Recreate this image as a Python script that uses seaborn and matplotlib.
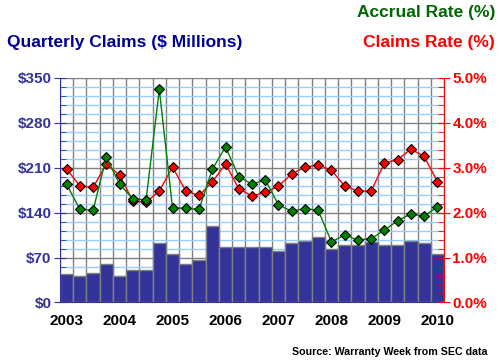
import numpy as np
import pandas as pd
import matplotlib
matplotlib.use("Agg")
import matplotlib.pyplot as plt
import seaborn as sns
from matplotlib.ticker import MultipleLocator, FixedLocator

# quarterly data, 2003 Q1 .. 2010 Q1
quarters = [f"{y}Q{q}" for y in range(2003, 2011) for q in range(1, 5)][:29]
claims = [44, 41, 46, 60, 42, 50, 50, 92, 75, 60, 66, 119, 86, 86, 86, 86,
          80, 92, 95, 102, 84, 90, 90, 94, 90, 90, 95, 92, 75]
claims_rate = [2.97, 2.59, 2.56, 3.08, 2.83, 2.26, 2.23, 2.48, 3.01, 2.48, 2.38, 2.68,
               3.08, 2.53, 2.37, 2.45, 2.59, 2.86, 3.01, 3.06, 2.94, 2.59, 2.48, 2.48,
               3.10, 3.18, 3.41, 3.25, 2.69]
accrual_rate = [2.63, 2.07, 2.05, 3.24, 2.63, 2.31, 2.28, 4.74, 2.10, 2.10, 2.07, 2.96,
                3.46, 2.80, 2.63, 2.73, 2.17, 2.03, 2.09, 2.05, 1.35, 1.50, 1.39, 1.42,
                1.61, 1.82, 1.97, 1.92, 2.13]
years = ["2003", "2004", "2005", "2006", "2007", "2008", "2009", "2010"]

df = pd.DataFrame({"quarter": quarters, "claims": claims,
                   "claims_rate": claims_rate, "accrual_rate": accrual_rate})
df["pos"] = np.arange(len(df))

sns.set_style("white")
plt.rcParams["font.family"] = ["Liberation Sans", "DejaVu Sans"]
plt.rcParams["font.weight"] = "bold"

navy = "#333399"
fig = plt.figure(figsize=(5, 3.63), dpi=100)
ax = fig.add_axes([0.12, 0.1667, 0.768, 0.6193])

sns.barplot(data=df, x="quarter", y="claims", color=navy, saturation=1,
            width=1, edgecolor="#808080", linewidth=1, ax=ax)
ax.set_axisbelow(True)
ax.set_xlim(-0.5, len(df) - 0.5)
ax.set_ylim(0, 350)
ax.yaxis.set_major_locator(MultipleLocator(70))
ax.yaxis.set_minor_locator(MultipleLocator(14))
ax.set_yticklabels([f"${int(v)}" for v in ax.get_yticks()])
ax.xaxis.set_major_locator(FixedLocator(np.arange(0, 29, 4)))
ax.set_xticklabels(years)
ax.xaxis.set_minor_locator(FixedLocator(np.arange(-0.5, 29, 1)))
ax.tick_params(axis="x", which="major", length=0, labelsize=11, labelcolor="black", pad=8)
ax.tick_params(axis="x", which="minor", length=4, direction="out", color="black")
ax.tick_params(axis="y", which="major", length=8, direction="inout", color=navy,
               labelcolor=navy, labelsize=11, pad=2)
ax.tick_params(axis="y", which="minor", length=4, direction="in", color=navy)
ax.grid(which="minor", axis="y", color="#99ccff", linewidth=1)
ax.grid(which="major", axis="y", color="#808080", linewidth=1)
ax.grid(which="minor", axis="x", color="#808080", linewidth=1)
ax.set_xlabel("")
ax.set_ylabel("")
for s in ["top", "right"]:
    ax.spines[s].set_visible(False)
ax.spines["left"].set_color(navy)
ax.spines["bottom"].set_color(navy)

ax2 = ax.twinx()
sns.lineplot(data=df, x="pos", y="claims_rate", color="red", linewidth=1,
             marker="D", markersize=5, markerfacecolor="red",
             markeredgecolor="black", markeredgewidth=0.8, ax=ax2)
sns.lineplot(data=df, x="pos", y="accrual_rate", color="#008000", linewidth=1,
             marker="D", markersize=5, markerfacecolor="#008000",
             markeredgecolor="black", markeredgewidth=0.8, ax=ax2)
ax2.set_ylim(0, 5)
ax2.set_xlim(-0.5, len(df) - 0.5)
ax2.yaxis.set_major_locator(MultipleLocator(1))
ax2.yaxis.set_minor_locator(MultipleLocator(0.2))
ax2.set_yticklabels([f"{v:.1f}%" for v in ax2.get_yticks()])
ax2.tick_params(axis="y", which="major", length=8, direction="inout", color="red",
                labelcolor="red", labelsize=11, pad=2)
ax2.tick_params(axis="y", which="minor", length=4, direction="in", color="red")
ax2.set_ylabel("")
ax2.set_xlabel("")
for s in ["top", "left", "bottom"]:
    ax2.spines[s].set_visible(False)
ax2.spines["right"].set_color("red")

fig.text(0.014, 0.882, "Quarterly Claims ($ Millions)", color="#000099",
         fontsize=12.5, fontweight="bold", va="center", ha="left")
fig.text(0.99, 0.965, "Accrual Rate (%)", color="#006600",
         fontsize=12.5, fontweight="bold", va="center", ha="right")
fig.text(0.99, 0.882, "Claims Rate (%)", color="red",
         fontsize=12.5, fontweight="bold", va="center", ha="right")
fig.text(0.976, 0.03, "Source: Warranty Week from SEC data", color="black",
         fontsize=7.7, fontweight="bold", va="center", ha="right")

fig.savefig("out.png", dpi=100)
